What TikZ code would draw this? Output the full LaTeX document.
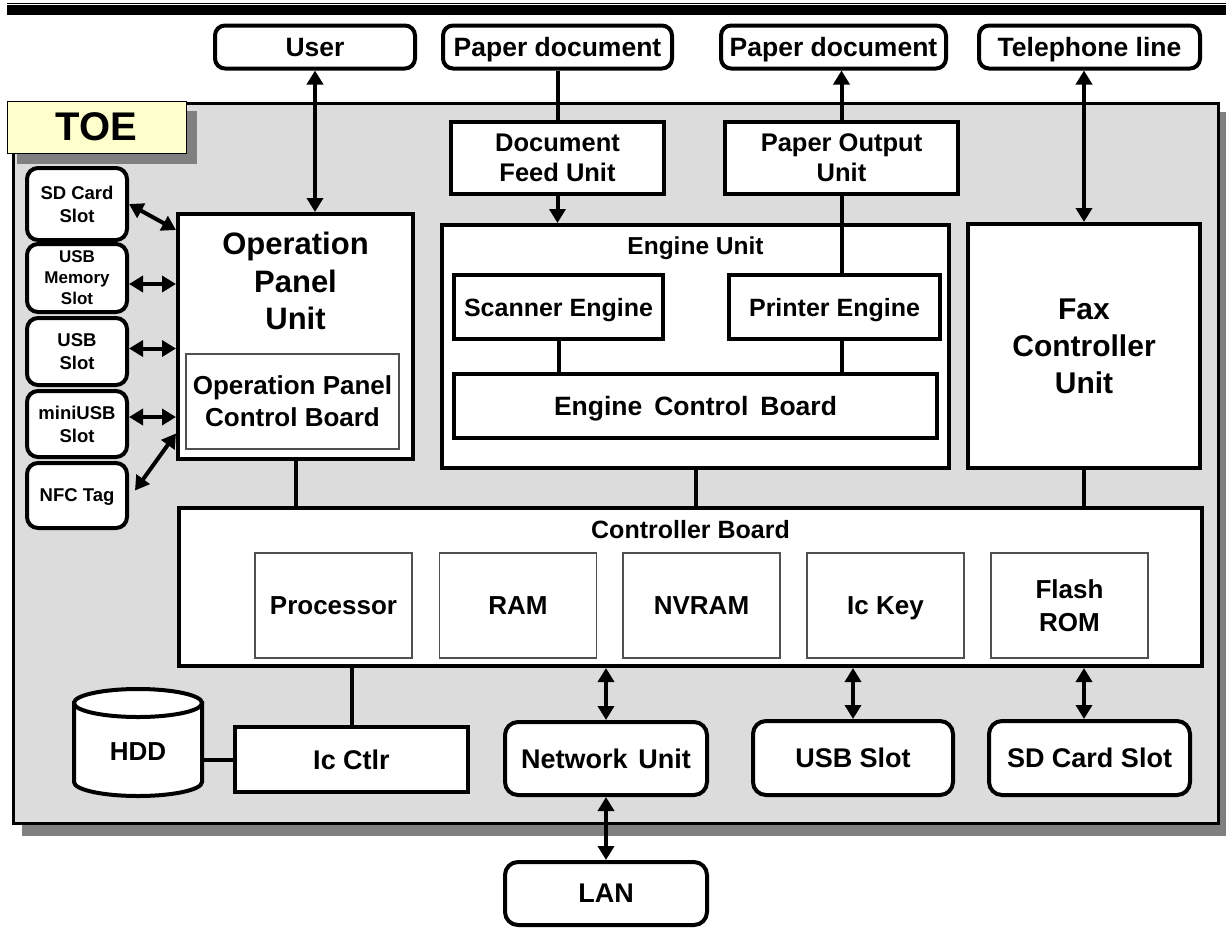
\documentclass[tikz,border=0pt]{standalone}
\usepackage{fontspec}
\setmainfont{Liberation Sans}
\usetikzlibrary{arrows.meta,calc}
\definecolor{toegray}{RGB}{220,220,220}
\definecolor{shadowgray}{RGB}{128,128,128}
\definecolor{toeyellow}{RGB}{255,255,204}
\definecolor{thingray}{RGB}{80,80,80}
\begin{document}
\begin{tikzpicture}[x=1pt,y=-1pt,
  fnt/.style 2 args={font=\bfseries\fontsize{#1}{#2}\selectfont},
  blk/.style={draw, line width=4pt, fill=white, inner sep=0pt, align=center, text depth=0pt, fnt={26.5}{30}},
  rbox/.style={blk, rounded corners=10pt},
  rboxb/.style={blk, rounded corners=13pt, fnt={27}{31}},
  slot/.style={blk, rounded corners=11pt, minimum width=100pt, fnt={18.5}{23}},
  thinbox/.style={draw=thingray, line width=1.2pt, fill=white, inner sep=0pt, align=center, fnt={26}{32}},
  inbox/.style={thinbox, minimum width=157pt, minimum height=105pt, text depth=0pt, fnt={26}{33}},
  lbl/.style={inner sep=0pt, align=center},
  conn/.style={line width=4pt},
  biarrow/.style={line width=4pt, arrows={Triangle[length=14pt,width=16pt]-Triangle[length=14pt,width=16pt]}},
  toarrow/.style={line width=4pt, arrows={-Triangle[length=14pt,width=16pt]}}
]
\useasboundingbox (0,0) rectangle (1226,927);
% top rules
\draw[line width=1.2pt] (7,3.4) -- (1226,3.4);
\fill (7,5.3) rectangle (1226,15);
% TOE area
\fill[shadowgray] (22,112) rectangle (1232,836);
\draw[line width=3pt, fill=toegray] (13.5,103.5) rectangle (1218,823);
\fill[shadowgray] (17,111) rectangle (197,164);
\node[draw, line width=1pt, fill=toeyellow, minimum width=179pt, minimum height=52pt, inner sep=0pt, fnt={40}{44}] (toe) at (96.5,127) {TOE};

% top external boxes
\node[rbox, minimum width=200pt, minimum height=43pt] (user) at (315,47) {User};
\node[rbox, minimum width=229pt, minimum height=43pt] (pd1) at (557.5,47) {Paper document};
\node[rbox, minimum width=225pt, minimum height=43pt] (pd2) at (833.5,47) {Paper document};
\node[rbox, minimum width=221pt, minimum height=43pt] (tel) at (1089.5,47) {Telephone line};

% feed / output
\node[blk, minimum width=213pt, minimum height=72pt, fnt={25.5}{30}] (dfu) at (557.5,158) {Document\\Feed Unit};
\node[blk, minimum width=233pt, minimum height=72pt, fnt={25.5}{30}] (pou) at (841.5,158) {Paper Output\\Unit};

% engine unit
\node[blk, minimum width=507pt, minimum height=243pt] (eng) at (695.5,346.5) {};
\node[lbl, fnt={24.5}{28}] (engt) at (695.5,248) {Engine Unit};
\node[blk, minimum width=209pt, minimum height=64pt, fnt={25}{29}] (scn) at (558.5,307) {Scanner Engine};
\node[blk, minimum width=211pt, minimum height=64pt, fnt={25}{29}] (prn) at (834.5,307) {Printer Engine};
\node[blk, minimum width=483pt, minimum height=64pt, fnt={26.5}{30}] (ecb) at (695.5,406) {Engine\hspace{0.45em}Control\hspace{0.45em}Board};

% fax
\node[blk, minimum width=232pt, minimum height=244pt, fnt={30}{37}] (fax) at (1084,346) {Fax\\Controller\\Unit};

% operation panel
\node[blk, minimum width=235pt, minimum height=245pt] (op) at (295.5,336.5) {};
\node[lbl, fnt={31}{37.5}] (opt) at (295.5,281) {Operation\\Panel\\Unit};
\node[thinbox, minimum width=213pt, minimum height=95pt] (opcb) at (292.5,401.5) {Operation Panel\\Control Board};

% left slots
\node[slot, minimum height=72pt] (sdc) at (77,204) {SD Card\\Slot};
\node[slot, minimum height=68pt, fnt={17}{21}] (usbm) at (77,278) {USB\\Memory\\Slot};
\node[slot, minimum height=67pt] (usbs) at (77,351.5) {USB\\Slot};
\node[slot, minimum height=66pt] (mini) at (77,424) {miniUSB\\Slot};
\node[slot, minimum height=65pt] (nfc) at (77,495.5) {NFC Tag};

% controller board
\node[blk, minimum width=1023pt, minimum height=158pt] (cb) at (690.5,587) {};
\node[lbl, fnt={25}{29}] (cbt) at (690.5,530) {Controller Board};
\node[inbox] (proc) at (333.5,605.5) {Processor};
\node[inbox] (ram) at (518,605.5) {RAM};
\node[inbox] (nvram) at (701.5,605.5) {NVRAM};
\node[inbox] (ickey) at (885.5,605.5) {Ic Key};
\node[inbox] (flash) at (1069.5,605.5) {Flash\\ROM};

% bottom row
\filldraw[line width=4pt, fill=white] (74,703) -- (74,782) arc[start angle=180, end angle=0, x radius=64, y radius=14] -- (202,703) -- cycle;
\filldraw[line width=4pt, fill=white] (138,703) ellipse[x radius=64, y radius=14];
\node[lbl, minimum width=128pt, fnt={26}{30}] (hdd) at (138,752) {HDD};
\node[blk, minimum width=233pt, minimum height=65pt, fnt={27}{31}] (icc) at (351.5,759.5) {Ic Ctlr};
\node[rboxb, minimum width=202pt, minimum height=73pt] (net) at (606,758.5) {Network\hspace{0.4em}Unit};
\node[rboxb, minimum width=200pt, minimum height=74pt] (usb) at (853,758) {USB Slot};
\node[rboxb, minimum width=201pt, minimum height=74pt] (sd) at (1089.5,758) {SD Card Slot};
\node[rboxb, minimum width=202pt, minimum height=63pt] (lan) at (606,893.5) {LAN};

% connectors
\draw[biarrow] (user.south) -- (user.south |- op.north);
\draw[conn] (pd1.south) -- (dfu.north);
\draw[toarrow] (dfu.south) -- (dfu.south |- eng.north);
\draw[toarrow] (pou.north) -- (pou.north |- pd2.south);
\draw[conn] (pou.south) -- (pou.south |- prn.north);
\draw[biarrow] (tel.south -| fax.north) -- (fax.north);
\draw[conn] (scn.south) -- (scn.south |- ecb.north);
\draw[conn] (pou.south |- prn.south) -- (pou.south |- ecb.north);
\draw[conn] (op.south) -- (op.south |- cb.north);
\draw[conn] (eng.south) -- (eng.south |- cb.north);
\draw[conn] (fax.south) -- (fax.south |- cb.north);
\draw[conn] (icc.north) -- (icc.north |- cb.south);
\draw[conn] (hdd.east |- icc.west) -- (icc.west);
\draw[biarrow] (net.north) -- (net.north |- cb.south);
\draw[biarrow] (usb.north) -- (usb.north |- cb.south);
\draw[biarrow] (sd.north -| fax.south) -- (fax.south |- cb.south);
\draw[biarrow] (net.south) -- (lan.north);

% left slot arrows
\draw[biarrow] (sdc.east) -- ($(op.west |- sdc.east)+(0,26)$);
\draw[biarrow] ($(usbm.east)+(0,6)$) -- ($(op.west |- usbm.east)+(0,6)$);
\draw[biarrow] ($(usbs.east)+(0,-3)$) -- ($(op.west |- usbs.east)+(0,-3)$);
\draw[biarrow] ($(mini.east)+(0,-7)$) -- ($(op.west |- mini.east)+(0,-7)$);
\draw[biarrow] ($(nfc.east)+(6,-5)$) -- ($(op.west |- nfc.east)+(0,-62)$);
\end{tikzpicture}
\end{document}
